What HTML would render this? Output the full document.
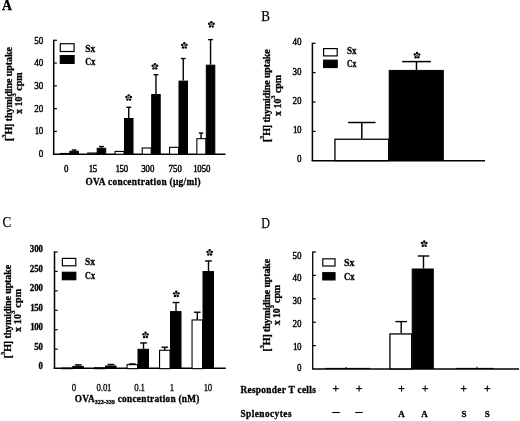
<!DOCTYPE html>
<html><head><meta charset="utf-8"><title>Figure</title>
<style>
html,body{margin:0;padding:0;background:#fff;}
body{width:520px;height:421px;overflow:hidden;}
svg{display:block;font-family:"Liberation Serif",serif;fill:#000;}
text{stroke:#000;stroke-width:0.3px;}
</style></head><body>
<svg width="520" height="421" viewBox="0 0 520 421">
<rect width="520" height="421" fill="#fff" stroke="none"/>
<defs><filter id="soft" x="0" y="0" width="520" height="421" filterUnits="userSpaceOnUse"><feGaussianBlur stdDeviation="0.35"/></filter></defs>
<g filter="url(#soft)">
<text x="1.9" y="10.4" font-size="13.8" text-anchor="start" font-weight="bold" >A</text>
<line x1="53.70" y1="39.70" x2="53.70" y2="154.20" stroke="#000" stroke-width="1.5"/>
<line x1="53.70" y1="131.42" x2="56.90" y2="131.42" stroke="#000" stroke-width="1.2"/>
<line x1="53.70" y1="108.64" x2="56.90" y2="108.64" stroke="#000" stroke-width="1.2"/>
<line x1="53.70" y1="85.86" x2="56.90" y2="85.86" stroke="#000" stroke-width="1.2"/>
<line x1="53.70" y1="63.08" x2="56.90" y2="63.08" stroke="#000" stroke-width="1.2"/>
<line x1="53.70" y1="40.30" x2="56.90" y2="40.30" stroke="#000" stroke-width="1.2"/>
<text transform="translate(43.2,157.2) scale(0.95,1)" x="-4.75" y="0" font-size="9.5" font-weight="normal" style="stroke-width:0.4px">0</text>
<text transform="translate(43.2,134.42) scale(0.95,1)" x="-9.03 -4.75" y="0" font-size="9.5" font-weight="normal" style="stroke-width:0.4px">10</text>
<text transform="translate(43.2,111.64) scale(0.95,1)" x="-9.50 -4.75" y="0" font-size="9.5" font-weight="normal" style="stroke-width:0.4px">20</text>
<text transform="translate(43.2,88.86) scale(0.95,1)" x="-9.50 -4.75" y="0" font-size="9.5" font-weight="normal" style="stroke-width:0.4px">30</text>
<text transform="translate(43.2,66.08) scale(0.95,1)" x="-9.50 -4.75" y="0" font-size="9.5" font-weight="normal" style="stroke-width:0.4px">40</text>
<text transform="translate(43.2,44.1) scale(0.95,1)" x="-9.50 -4.75" y="0" font-size="9.5" font-weight="normal" style="stroke-width:0.4px">50</text>
<line x1="52.90" y1="154.20" x2="225.50" y2="154.20" stroke="#000" stroke-width="1.6"/>
<rect x="60.30" y="43.70" width="13.80" height="7.80" fill="#fff" stroke="#000" stroke-width="1.2"/>
<rect x="60.30" y="55.60" width="13.80" height="7.80" fill="#000" stroke="#000" stroke-width="1.2"/>
<text x="85.3" y="52.0" font-size="9.5" text-anchor="start" font-weight="bold" textLength="10" lengthAdjust="spacingAndGlyphs" >Sx</text>
<text x="85.3" y="64.6" font-size="9.5" text-anchor="start" font-weight="bold" textLength="10" lengthAdjust="spacingAndGlyphs" >Cx</text>
<text transform="translate(12.2,141) rotate(-90)" font-size="10" font-weight="bold" textLength="93.9" lengthAdjust="spacing">[<tspan font-size="6.5" dy="-5.8">3</tspan><tspan dy="5.8">H] thymidine uptake</tspan></text>
<text transform="translate(21.8,114) rotate(-90)" font-size="10" font-weight="bold" textLength="41.7" lengthAdjust="spacing">x 10<tspan font-size="6.5" dy="-5.8">3</tspan><tspan dy="5.8"> cpm</tspan></text>
<rect x="60.45" y="153.47" width="9.00" height="0.78" fill="#fff" stroke="#000" stroke-width="1.1"/>
<rect x="69.90" y="151.28" width="8.50" height="2.42" fill="#000" stroke="#000" stroke-width="1"/>
<line x1="74.15" y1="149.99" x2="74.15" y2="150.78" stroke="#000" stroke-width="1.4"/>
<line x1="71.75" y1="149.99" x2="76.55" y2="149.99" stroke="#000" stroke-width="1.4"/>
<rect x="87.75" y="153.01" width="9.00" height="1.24" fill="#fff" stroke="#000" stroke-width="1.1"/>
<rect x="97.20" y="148.32" width="8.50" height="5.38" fill="#000" stroke="#000" stroke-width="1"/>
<line x1="101.45" y1="146.57" x2="101.45" y2="147.82" stroke="#000" stroke-width="1.4"/>
<line x1="99.05" y1="146.57" x2="103.85" y2="146.57" stroke="#000" stroke-width="1.4"/>
<rect x="115.05" y="151.42" width="9.00" height="2.83" fill="#fff" stroke="#000" stroke-width="1.1"/>
<rect x="124.50" y="118.48" width="8.50" height="35.22" fill="#000" stroke="#000" stroke-width="1"/>
<line x1="128.75" y1="107.27" x2="128.75" y2="117.98" stroke="#000" stroke-width="1.4"/>
<line x1="126.35" y1="107.27" x2="131.15" y2="107.27" stroke="#000" stroke-width="1.4"/>
<circle cx="128.70" cy="97.70" r="1.0" fill="#555"/><circle cx="128.70" cy="95.35" r="1.2" fill="#000"/><circle cx="130.93" cy="96.97" r="1.2" fill="#000"/><circle cx="130.08" cy="99.60" r="1.2" fill="#000"/><circle cx="127.32" cy="99.60" r="1.2" fill="#000"/><circle cx="126.47" cy="96.97" r="1.2" fill="#000"/>
<rect x="142.25" y="148.00" width="9.00" height="6.25" fill="#fff" stroke="#000" stroke-width="1.1"/>
<rect x="151.70" y="94.56" width="8.50" height="59.14" fill="#000" stroke="#000" stroke-width="1"/>
<line x1="155.95" y1="74.70" x2="155.95" y2="94.06" stroke="#000" stroke-width="1.4"/>
<line x1="153.55" y1="74.70" x2="158.35" y2="74.70" stroke="#000" stroke-width="1.4"/>
<circle cx="154.90" cy="66.50" r="1.0" fill="#555"/><circle cx="154.90" cy="64.15" r="1.2" fill="#000"/><circle cx="157.13" cy="65.77" r="1.2" fill="#000"/><circle cx="156.28" cy="68.40" r="1.2" fill="#000"/><circle cx="153.52" cy="68.40" r="1.2" fill="#000"/><circle cx="152.67" cy="65.77" r="1.2" fill="#000"/>
<rect x="169.55" y="147.32" width="9.00" height="6.93" fill="#fff" stroke="#000" stroke-width="1.1"/>
<rect x="179.00" y="81.12" width="8.50" height="72.58" fill="#000" stroke="#000" stroke-width="1"/>
<line x1="183.25" y1="58.52" x2="183.25" y2="80.62" stroke="#000" stroke-width="1.4"/>
<line x1="180.85" y1="58.52" x2="185.65" y2="58.52" stroke="#000" stroke-width="1.4"/>
<circle cx="184.30" cy="45.60" r="1.0" fill="#555"/><circle cx="184.30" cy="43.25" r="1.2" fill="#000"/><circle cx="186.53" cy="44.87" r="1.2" fill="#000"/><circle cx="185.68" cy="47.50" r="1.2" fill="#000"/><circle cx="182.92" cy="47.50" r="1.2" fill="#000"/><circle cx="182.07" cy="44.87" r="1.2" fill="#000"/>
<rect x="196.85" y="138.66" width="9.00" height="15.59" fill="#fff" stroke="#000" stroke-width="1.1"/>
<line x1="201.05" y1="133.01" x2="201.05" y2="138.71" stroke="#000" stroke-width="1.4"/>
<line x1="198.80" y1="133.01" x2="203.30" y2="133.01" stroke="#000" stroke-width="1.4"/>
<rect x="206.30" y="65.17" width="8.50" height="88.53" fill="#000" stroke="#000" stroke-width="1"/>
<line x1="210.55" y1="39.62" x2="210.55" y2="64.67" stroke="#000" stroke-width="1.4"/>
<line x1="208.15" y1="39.62" x2="212.95" y2="39.62" stroke="#000" stroke-width="1.4"/>
<circle cx="211.40" cy="24.50" r="1.0" fill="#555"/><circle cx="211.40" cy="22.15" r="1.2" fill="#000"/><circle cx="213.63" cy="23.77" r="1.2" fill="#000"/><circle cx="212.78" cy="26.40" r="1.2" fill="#000"/><circle cx="210.02" cy="26.40" r="1.2" fill="#000"/><circle cx="209.17" cy="23.77" r="1.2" fill="#000"/>
<text transform="translate(66.1,171.6) scale(0.95,1)" x="-2.33" y="0" font-size="9.3" font-weight="normal" style="stroke-width:0.4px">0</text>
<text transform="translate(93.1,171.6) scale(0.95,1)" x="-4.65 -0.46" y="0" font-size="9.3" font-weight="normal" style="stroke-width:0.4px">15</text>
<text transform="translate(122.1,171.6) scale(0.95,1)" x="-6.98 -2.79 1.86" y="0" font-size="9.3" font-weight="normal" style="stroke-width:0.4px">150</text>
<text transform="translate(147.8,171.6) scale(0.95,1)" x="-6.98 -2.33 2.33" y="0" font-size="9.3" font-weight="normal" style="stroke-width:0.4px">300</text>
<text transform="translate(175.2,171.6) scale(0.95,1)" x="-6.98 -2.33 2.33" y="0" font-size="9.3" font-weight="normal" style="stroke-width:0.4px">750</text>
<text transform="translate(202.1,171.6) scale(0.95,1)" x="-9.30 -5.12 -0.46 4.19" y="0" font-size="9.3" font-weight="normal" style="stroke-width:0.4px">1050</text>
<text x="85.5" y="185.1" font-size="9.3" text-anchor="start" font-weight="bold" textLength="115" lengthAdjust="spacing" >OVA concentration (µg/ml)</text>
<text x="261.3" y="20.6" font-size="14.6" text-anchor="start" font-weight="normal" textLength="8.7" lengthAdjust="spacingAndGlyphs" style="stroke-width:0.25px">B</text>
<line x1="312.40" y1="42.70" x2="312.40" y2="160.70" stroke="#000" stroke-width="1.5"/>
<line x1="312.40" y1="131.35" x2="315.60" y2="131.35" stroke="#000" stroke-width="1.2"/>
<line x1="312.40" y1="102.00" x2="315.60" y2="102.00" stroke="#000" stroke-width="1.2"/>
<line x1="312.40" y1="72.65" x2="315.60" y2="72.65" stroke="#000" stroke-width="1.2"/>
<line x1="312.40" y1="43.30" x2="315.60" y2="43.30" stroke="#000" stroke-width="1.2"/>
<text transform="translate(301.6,161.9) scale(0.95,1)" x="-4.75" y="0" font-size="9.5" font-weight="normal" style="stroke-width:0.4px">0</text>
<text transform="translate(301.6,133.35) scale(0.95,1)" x="-9.03 -4.75" y="0" font-size="9.5" font-weight="normal" style="stroke-width:0.4px">10</text>
<text transform="translate(301.6,104.0) scale(0.95,1)" x="-9.50 -4.75" y="0" font-size="9.5" font-weight="normal" style="stroke-width:0.4px">20</text>
<text transform="translate(301.6,74.65) scale(0.95,1)" x="-9.50 -4.75" y="0" font-size="9.5" font-weight="normal" style="stroke-width:0.4px">30</text>
<text transform="translate(301.6,45.3) scale(0.95,1)" x="-9.50 -4.75" y="0" font-size="9.5" font-weight="normal" style="stroke-width:0.4px">40</text>
<line x1="311.60" y1="160.70" x2="485.00" y2="160.70" stroke="#000" stroke-width="1.6"/>
<rect x="323.60" y="48.60" width="13.60" height="7.30" fill="#fff" stroke="#000" stroke-width="1.2"/>
<rect x="323.60" y="60.20" width="13.60" height="7.30" fill="#000" stroke="#000" stroke-width="1.2"/>
<text x="347" y="53.8" font-size="9.5" text-anchor="start" font-weight="bold" textLength="9.5" lengthAdjust="spacingAndGlyphs" >Sx</text>
<text x="347" y="67.0" font-size="9.5" text-anchor="start" font-weight="bold" textLength="9.5" lengthAdjust="spacingAndGlyphs" >Cx</text>
<text transform="translate(270.1,142.1) rotate(-90)" font-size="10" font-weight="bold" textLength="92.8" lengthAdjust="spacing">[<tspan font-size="6.5" dy="-5.8">3</tspan><tspan dy="5.8">H] thymidine uptake</tspan></text>
<text transform="translate(280.5,115.9) rotate(-90)" font-size="10" font-weight="bold" textLength="41.1" lengthAdjust="spacing">x 10<tspan font-size="6.5" dy="-5.8">3</tspan><tspan dy="5.8"> cpm</tspan></text>
<rect x="334.95" y="139.25" width="53.70" height="21.40" fill="#fff" stroke="#000" stroke-width="1.3"/>
<line x1="361.80" y1="122.50" x2="361.80" y2="138.60" stroke="#000" stroke-width="1.5"/>
<line x1="348.05" y1="122.50" x2="375.55" y2="122.50" stroke="#000" stroke-width="1.5"/>
<rect x="389.20" y="70.40" width="54.10" height="89.80" fill="#000" stroke="#000" stroke-width="1"/>
<line x1="416.50" y1="61.60" x2="416.50" y2="69.90" stroke="#000" stroke-width="1.5"/>
<line x1="402.15" y1="61.60" x2="430.85" y2="61.60" stroke="#000" stroke-width="1.5"/>
<circle cx="417.00" cy="55.30" r="1.0" fill="#555"/><circle cx="417.00" cy="52.95" r="1.2" fill="#000"/><circle cx="419.23" cy="54.57" r="1.2" fill="#000"/><circle cx="418.38" cy="57.20" r="1.2" fill="#000"/><circle cx="415.62" cy="57.20" r="1.2" fill="#000"/><circle cx="414.77" cy="54.57" r="1.2" fill="#000"/>
<text x="2.6" y="227.4" font-size="13.9" text-anchor="start" font-weight="normal" textLength="8.7" lengthAdjust="spacingAndGlyphs" style="stroke-width:0.25px">C</text>
<line x1="54.50" y1="251.40" x2="54.50" y2="368.60" stroke="#000" stroke-width="1.5"/>
<line x1="54.50" y1="349.17" x2="57.70" y2="349.17" stroke="#000" stroke-width="1.2"/>
<line x1="54.50" y1="329.73" x2="57.70" y2="329.73" stroke="#000" stroke-width="1.2"/>
<line x1="54.50" y1="310.30" x2="57.70" y2="310.30" stroke="#000" stroke-width="1.2"/>
<line x1="54.50" y1="290.87" x2="57.70" y2="290.87" stroke="#000" stroke-width="1.2"/>
<line x1="54.50" y1="271.43" x2="57.70" y2="271.43" stroke="#000" stroke-width="1.2"/>
<line x1="54.50" y1="252.00" x2="57.70" y2="252.00" stroke="#000" stroke-width="1.2"/>
<text transform="translate(43.0,369.2) scale(0.95,1)" x="-4.65" y="0" font-size="9.3" font-weight="bold" style="stroke-width:0.3px">0</text>
<text transform="translate(43.0,349.77) scale(0.95,1)" x="-9.30 -4.65" y="0" font-size="9.3" font-weight="bold" style="stroke-width:0.3px">50</text>
<text transform="translate(43.0,330.33) scale(0.95,1)" x="-13.49 -9.30 -4.65" y="0" font-size="9.3" font-weight="bold" style="stroke-width:0.3px">100</text>
<text transform="translate(43.0,310.9) scale(0.95,1)" x="-13.49 -9.30 -4.65" y="0" font-size="9.3" font-weight="bold" style="stroke-width:0.3px">150</text>
<text transform="translate(43.0,291.47) scale(0.95,1)" x="-13.95 -9.30 -4.65" y="0" font-size="9.3" font-weight="bold" style="stroke-width:0.3px">200</text>
<text transform="translate(43.0,272.03) scale(0.95,1)" x="-13.95 -9.30 -4.65" y="0" font-size="9.3" font-weight="bold" style="stroke-width:0.3px">250</text>
<text transform="translate(43.0,251.8) scale(0.95,1)" x="-13.95 -9.30 -4.65" y="0" font-size="9.3" font-weight="bold" style="stroke-width:0.3px">300</text>
<line x1="53.70" y1="368.30" x2="225.80" y2="368.30" stroke="#000" stroke-width="1.5"/>
<rect x="62.40" y="258.40" width="13.40" height="7.40" fill="#fff" stroke="#000" stroke-width="1.2"/>
<rect x="62.40" y="272.30" width="13.40" height="7.40" fill="#000" stroke="#000" stroke-width="1.2"/>
<text x="85" y="265.0" font-size="9.5" text-anchor="start" font-weight="bold" textLength="10" lengthAdjust="spacingAndGlyphs" >Sx</text>
<text x="85" y="279.0" font-size="9.5" text-anchor="start" font-weight="bold" textLength="10" lengthAdjust="spacingAndGlyphs" >Cx</text>
<text transform="translate(10.5,358.2) rotate(-90)" font-size="10" font-weight="bold" textLength="93.3" lengthAdjust="spacing">[<tspan font-size="6.5" dy="-5.8">3</tspan><tspan dy="5.8">H] thymidine uptake</tspan></text>
<text transform="translate(20.9,332.1) rotate(-90)" font-size="10" font-weight="bold" textLength="43.1" lengthAdjust="spacing">x 10<tspan font-size="6.5" dy="-5.8">3</tspan><tspan dy="5.8"> cpm</tspan></text>
<rect x="61.85" y="368.16" width="10.50" height="0.49" fill="#fff" stroke="#000" stroke-width="1.1"/>
<rect x="72.80" y="366.38" width="10.50" height="1.72" fill="#000" stroke="#000" stroke-width="1"/>
<line x1="78.30" y1="364.87" x2="78.30" y2="365.88" stroke="#000" stroke-width="1.4"/>
<line x1="74.90" y1="364.87" x2="81.70" y2="364.87" stroke="#000" stroke-width="1.4"/>
<rect x="94.55" y="367.77" width="10.50" height="0.88" fill="#fff" stroke="#000" stroke-width="1.1"/>
<rect x="105.50" y="365.99" width="10.50" height="2.11" fill="#000" stroke="#000" stroke-width="1"/>
<line x1="111.00" y1="364.48" x2="111.00" y2="365.49" stroke="#000" stroke-width="1.4"/>
<line x1="107.60" y1="364.48" x2="114.40" y2="364.48" stroke="#000" stroke-width="1.4"/>
<rect x="127.05" y="364.66" width="10.50" height="3.99" fill="#fff" stroke="#000" stroke-width="1.1"/>
<line x1="132.30" y1="363.94" x2="132.30" y2="364.71" stroke="#000" stroke-width="1.4"/>
<line x1="129.05" y1="363.94" x2="135.55" y2="363.94" stroke="#000" stroke-width="1.4"/>
<rect x="138.00" y="349.28" width="10.50" height="18.82" fill="#000" stroke="#000" stroke-width="1"/>
<line x1="143.50" y1="342.95" x2="143.50" y2="348.78" stroke="#000" stroke-width="1.4"/>
<line x1="140.10" y1="342.95" x2="146.90" y2="342.95" stroke="#000" stroke-width="1.4"/>
<circle cx="145.50" cy="335.10" r="1.0" fill="#555"/><circle cx="145.50" cy="332.75" r="1.2" fill="#000"/><circle cx="147.73" cy="334.37" r="1.2" fill="#000"/><circle cx="146.88" cy="337.00" r="1.2" fill="#000"/><circle cx="144.12" cy="337.00" r="1.2" fill="#000"/><circle cx="143.27" cy="334.37" r="1.2" fill="#000"/>
<rect x="159.55" y="350.28" width="10.50" height="18.37" fill="#fff" stroke="#000" stroke-width="1.1"/>
<line x1="164.80" y1="347.22" x2="164.80" y2="350.33" stroke="#000" stroke-width="1.4"/>
<line x1="161.55" y1="347.22" x2="168.05" y2="347.22" stroke="#000" stroke-width="1.4"/>
<rect x="170.50" y="311.58" width="10.50" height="56.52" fill="#000" stroke="#000" stroke-width="1"/>
<line x1="176.00" y1="302.53" x2="176.00" y2="311.08" stroke="#000" stroke-width="1.4"/>
<line x1="172.60" y1="302.53" x2="179.40" y2="302.53" stroke="#000" stroke-width="1.4"/>
<circle cx="176.30" cy="294.10" r="1.0" fill="#555"/><circle cx="176.30" cy="291.75" r="1.2" fill="#000"/><circle cx="178.53" cy="293.37" r="1.2" fill="#000"/><circle cx="177.68" cy="296.00" r="1.2" fill="#000"/><circle cx="174.92" cy="296.00" r="1.2" fill="#000"/><circle cx="174.07" cy="293.37" r="1.2" fill="#000"/>
<rect x="192.05" y="319.97" width="10.50" height="48.68" fill="#fff" stroke="#000" stroke-width="1.1"/>
<line x1="197.30" y1="312.24" x2="197.30" y2="320.02" stroke="#000" stroke-width="1.4"/>
<line x1="194.05" y1="312.24" x2="200.55" y2="312.24" stroke="#000" stroke-width="1.4"/>
<rect x="203.00" y="271.54" width="10.50" height="96.56" fill="#000" stroke="#000" stroke-width="1"/>
<line x1="208.50" y1="260.94" x2="208.50" y2="271.04" stroke="#000" stroke-width="1.4"/>
<line x1="205.10" y1="260.94" x2="211.90" y2="260.94" stroke="#000" stroke-width="1.4"/>
<circle cx="209.70" cy="252.60" r="1.0" fill="#555"/><circle cx="209.70" cy="250.25" r="1.2" fill="#000"/><circle cx="211.93" cy="251.87" r="1.2" fill="#000"/><circle cx="211.08" cy="254.50" r="1.2" fill="#000"/><circle cx="208.32" cy="254.50" r="1.2" fill="#000"/><circle cx="207.47" cy="251.87" r="1.2" fill="#000"/>
<text transform="translate(74,390.6) scale(0.95,1)" x="-2.33" y="0" font-size="9.3" font-weight="normal" style="stroke-width:0.25px">0</text>
<text transform="translate(103.7,390.6) scale(0.95,1)" x="-7.67 -3.02 -0.70 3.49" y="0" font-size="9.3" font-weight="normal" style="stroke-width:0.25px">0.01</text>
<text transform="translate(139.4,390.6) scale(0.95,1)" x="-5.35 -0.70 1.16" y="0" font-size="9.3" font-weight="normal" style="stroke-width:0.25px">0.1</text>
<text transform="translate(172,390.6) scale(0.95,1)" x="-2.33" y="0" font-size="9.3" font-weight="normal" style="stroke-width:0.25px">1</text>
<text transform="translate(208.1,390.6) scale(0.95,1)" x="-4.65 -0.46" y="0" font-size="9.3" font-weight="normal" style="stroke-width:0.25px">10</text>
<text x="74.7" y="401.9" font-size="9.3" font-weight="bold" textLength="124.7" lengthAdjust="spacing">OVA<tspan font-size="5.5" dy="1.6">323-339</tspan><tspan dy="-1.6"> concentration (nM)</tspan></text>
<text x="261.3" y="227.8" font-size="14.6" text-anchor="start" font-weight="normal" textLength="8.7" lengthAdjust="spacingAndGlyphs" style="stroke-width:0.25px">D</text>
<line x1="312.70" y1="251.40" x2="312.70" y2="369.00" stroke="#000" stroke-width="1.3"/>
<line x1="312.70" y1="345.60" x2="315.90" y2="345.60" stroke="#000" stroke-width="1.2"/>
<line x1="312.70" y1="322.20" x2="315.90" y2="322.20" stroke="#000" stroke-width="1.2"/>
<line x1="312.70" y1="298.80" x2="315.90" y2="298.80" stroke="#000" stroke-width="1.2"/>
<line x1="312.70" y1="275.40" x2="315.90" y2="275.40" stroke="#000" stroke-width="1.2"/>
<line x1="312.70" y1="252.00" x2="315.90" y2="252.00" stroke="#000" stroke-width="1.2"/>
<text transform="translate(301.6,259.3) scale(0.95,1)" x="-9.50 -4.75" y="0" font-size="9.5" font-weight="normal" style="stroke-width:0.4px">50</text>
<text transform="translate(301.6,280.5) scale(0.95,1)" x="-9.50 -4.75" y="0" font-size="9.5" font-weight="normal" style="stroke-width:0.4px">40</text>
<text transform="translate(301.6,304.1) scale(0.95,1)" x="-9.50 -4.75" y="0" font-size="9.5" font-weight="normal" style="stroke-width:0.4px">30</text>
<text transform="translate(301.6,326.7) scale(0.95,1)" x="-9.50 -4.75" y="0" font-size="9.5" font-weight="normal" style="stroke-width:0.4px">20</text>
<text transform="translate(301.6,349.5) scale(0.95,1)" x="-9.03 -4.75" y="0" font-size="9.5" font-weight="normal" style="stroke-width:0.4px">10</text>
<text transform="translate(301.6,370.7) scale(0.95,1)" x="-4.75" y="0" font-size="9.5" font-weight="normal" style="stroke-width:0.4px">0</text>
<line x1="312.00" y1="369.00" x2="519.00" y2="369.00" stroke="#000" stroke-width="1.3"/>
<rect x="322.80" y="258.80" width="12.20" height="7.20" fill="#fff" stroke="#000" stroke-width="1.2"/>
<rect x="322.80" y="272.70" width="12.20" height="7.20" fill="#000" stroke="#000" stroke-width="1.2"/>
<text x="344" y="266.0" font-size="9.5" text-anchor="start" font-weight="bold" textLength="10.5" lengthAdjust="spacingAndGlyphs" >Sx</text>
<text x="344" y="280.2" font-size="9.5" text-anchor="start" font-weight="bold" textLength="10.5" lengthAdjust="spacingAndGlyphs" >Cx</text>
<text transform="translate(270.1,351.5) rotate(-90)" font-size="10" font-weight="bold" textLength="92.7" lengthAdjust="spacing">[<tspan font-size="6.5" dy="-5.8">3</tspan><tspan dy="5.8">H] thymidine uptake</tspan></text>
<text transform="translate(279.7,325.3) rotate(-90)" font-size="10" font-weight="bold" textLength="40.5" lengthAdjust="spacing">x 10<tspan font-size="6.5" dy="-5.8">3</tspan><tspan dy="5.8"> cpm</tspan></text>
<rect x="389.95" y="333.95" width="21.70" height="34.90" fill="#fff" stroke="#000" stroke-width="1.3"/>
<line x1="401.20" y1="321.60" x2="401.20" y2="333.30" stroke="#000" stroke-width="1.4"/>
<line x1="395.35" y1="321.60" x2="407.05" y2="321.60" stroke="#000" stroke-width="1.4"/>
<rect x="412.20" y="269.00" width="21.10" height="99.50" fill="#000" stroke="#000" stroke-width="1"/>
<line x1="423.50" y1="256.00" x2="423.50" y2="268.50" stroke="#000" stroke-width="1.4"/>
<line x1="417.80" y1="256.00" x2="429.20" y2="256.00" stroke="#000" stroke-width="1.4"/>
<circle cx="424.20" cy="243.80" r="1.0" fill="#555"/><circle cx="424.20" cy="241.45" r="1.2" fill="#000"/><circle cx="426.43" cy="243.07" r="1.2" fill="#000"/><circle cx="425.58" cy="245.70" r="1.2" fill="#000"/><circle cx="422.82" cy="245.70" r="1.2" fill="#000"/><circle cx="421.97" cy="243.07" r="1.2" fill="#000"/>
<line x1="325.00" y1="368.40" x2="370.00" y2="368.40" stroke="#000" stroke-width="1.0"/>
<line x1="346.20" y1="367.00" x2="346.20" y2="369.00" stroke="#000" stroke-width="1.0"/>
<line x1="456.00" y1="368.40" x2="494.00" y2="368.40" stroke="#000" stroke-width="1.0"/>
<line x1="477.00" y1="366.80" x2="477.00" y2="369.00" stroke="#000" stroke-width="1.0"/>
<line x1="332.80" y1="388.60" x2="338.80" y2="388.60" stroke="#000" stroke-width="1.1"/>
<line x1="335.80" y1="385.60" x2="335.80" y2="391.60" stroke="#000" stroke-width="1.1"/>
<line x1="356.10" y1="388.60" x2="362.10" y2="388.60" stroke="#000" stroke-width="1.1"/>
<line x1="359.10" y1="385.60" x2="359.10" y2="391.60" stroke="#000" stroke-width="1.1"/>
<line x1="398.50" y1="388.60" x2="404.50" y2="388.60" stroke="#000" stroke-width="1.1"/>
<line x1="401.50" y1="385.60" x2="401.50" y2="391.60" stroke="#000" stroke-width="1.1"/>
<line x1="422.20" y1="388.60" x2="428.20" y2="388.60" stroke="#000" stroke-width="1.1"/>
<line x1="425.20" y1="385.60" x2="425.20" y2="391.60" stroke="#000" stroke-width="1.1"/>
<line x1="460.70" y1="388.60" x2="466.70" y2="388.60" stroke="#000" stroke-width="1.1"/>
<line x1="463.70" y1="385.60" x2="463.70" y2="391.60" stroke="#000" stroke-width="1.1"/>
<line x1="484.30" y1="388.60" x2="490.30" y2="388.60" stroke="#000" stroke-width="1.1"/>
<line x1="487.30" y1="385.60" x2="487.30" y2="391.60" stroke="#000" stroke-width="1.1"/>
<line x1="332.30" y1="412.50" x2="339.70" y2="412.50" stroke="#000" stroke-width="1.1"/>
<line x1="355.30" y1="412.50" x2="362.70" y2="412.50" stroke="#000" stroke-width="1.1"/>
<text x="401.5" y="417" font-size="9" text-anchor="middle" font-weight="bold" >A</text>
<text x="424.6" y="417" font-size="9" text-anchor="middle" font-weight="bold" >A</text>
<text x="464" y="417" font-size="9" text-anchor="middle" font-weight="bold" >S</text>
<text x="487.2" y="417" font-size="9" text-anchor="middle" font-weight="bold" >S</text>
<text x="240.4" y="392.8" font-size="9.3" text-anchor="start" font-weight="bold" textLength="75.4" lengthAdjust="spacing" >Responder T cells</text>
<text x="240.4" y="416.5" font-size="9.3" text-anchor="start" font-weight="bold" textLength="51.1" lengthAdjust="spacing" >Splenocytes</text>
</g>
</svg>
</body></html>
